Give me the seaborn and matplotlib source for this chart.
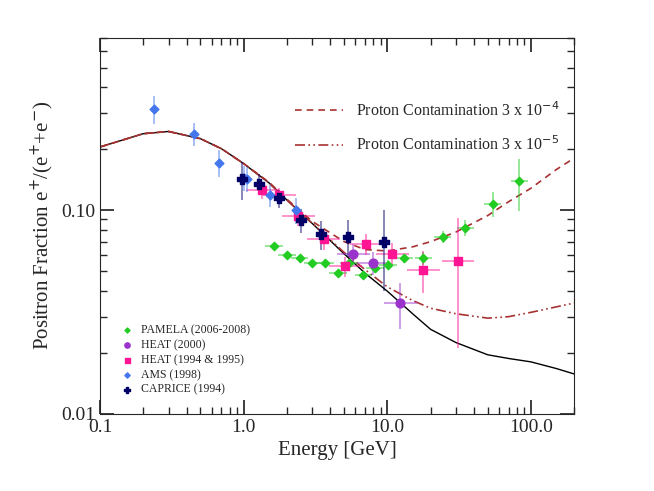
import numpy as np
import pandas as pd
import seaborn as sns
import matplotlib
matplotlib.use("Agg")
import matplotlib.pyplot as plt
from matplotlib.ticker import FixedLocator, NullFormatter

# data
pamela_e = [1.63, 2.0, 2.45, 3.0, 3.7, 4.55, 5.4, 6.8, 8.2, 10.1, 13.1, 17.8, 24.3, 34.9, 54, 83]
pamela_f = [0.067, 0.060, 0.058, 0.055, 0.055, 0.049, 0.055, 0.048, 0.052, 0.054, 0.058, 0.058, 0.074, 0.082, 0.107, 0.139]
pamela_err = [0.002, 0.002, 0.002, 0.002, 0.002, 0.002, 0.002, 0.002, 0.003, 0.003, 0.003, 0.004, 0.005, 0.007, 0.015, 0.04]

heat00_e = [5.8, 8.0, 12.3]
heat00_f = [0.061, 0.055, 0.035]
heat00_err = [0.007, 0.007, 0.009]

heat94_e = [1.35, 1.77, 2.4, 3.6, 5.1, 7.1, 10.8, 17.8, 31]
heat94_f = [0.125, 0.119, 0.094, 0.072, 0.053, 0.068, 0.061, 0.051, 0.056]
heat94_err = [0.012, 0.01, 0.01, 0.008, 0.006, 0.008, 0.008, 0.012, 0.035]

ams_e = [0.238, 0.45, 0.67, 1.01, 1.05, 1.53, 2.3]
ams_f = [0.314, 0.237, 0.171, 0.144, 0.142, 0.118, 0.100]
ams_err = [0.05, 0.03, 0.025, 0.02, 0.02, 0.015, 0.015]

caprice_e = [0.98, 1.28, 1.77, 2.5, 3.45, 5.3, 9.5]
caprice_f = [0.142, 0.135, 0.114, 0.089, 0.076, 0.074, 0.070]
caprice_err = [0.03, 0.015, 0.012, 0.012, 0.012, 0.015, 0.03]

model_e = [0.1, 0.2, 0.3, 0.5, 0.7, 1.0, 1.5, 2, 3, 5, 7, 10, 15, 20, 30, 50, 70, 100, 150, 200]
model_f = [0.204, 0.237, 0.243, 0.224, 0.200, 0.169, 0.136, 0.112, 0.086, 0.061, 0.049, 0.040,
           0.031, 0.026, 0.0224, 0.0195, 0.0187, 0.018, 0.0167, 0.0157]
p4_f = [0.204, 0.237, 0.243, 0.224, 0.200, 0.169, 0.137, 0.113, 0.088, 0.070, 0.064, 0.063,
        0.066, 0.070, 0.078, 0.094, 0.110, 0.128, 0.158, 0.18]
p5_f = [0.204, 0.237, 0.243, 0.224, 0.200, 0.169, 0.136, 0.112, 0.086, 0.062, 0.051, 0.042,
        0.036, 0.033, 0.031, 0.0295, 0.030, 0.0315, 0.0335, 0.035]

sns.set_theme(style="ticks")
plt.rcParams['font.family'] = ['Liberation Serif', 'DejaVu Serif']

fig = plt.figure(figsize=(6.54, 4.91), dpi=100)
ax = fig.add_axes([0.153, 0.157, 0.725, 0.766])

curves = pd.DataFrame({'E': model_e, 'm': model_f, 'p4': p4_f, 'p5': p5_f})
sns.lineplot(data=curves, x='E', y='m', color='black', lw=1, ax=ax)
sns.lineplot(data=curves, x='E', y='p4', color='#a83232', lw=1.2, ax=ax,
             linestyle=(0, (4, 3)), label='Proton Contamination 3 x 10$^{-4}$')
sns.lineplot(data=curves, x='E', y='p5', color='#a83232', lw=1.2, ax=ax,
             linestyle=(0, (6, 2, 1, 2, 1, 2)), label='Proton Contamination 3 x 10$^{-5}$')
leg1 = ax.legend(loc='upper right', bbox_to_anchor=(1.0, 0.87), frameon=False, fontsize=11.5,
                 handlelength=3, labelspacing=1.0)
ax.add_artist(leg1)

def series(e, f, err, color, marker, ms, label, xfrac):
    e = np.array(e)
    xerr = [e * (1 - 1 / (1 + xfrac)), e * xfrac]
    ax.errorbar(e, f, yerr=err, xerr=xerr, fmt='none', ecolor=color, alpha=0.55, lw=1.2)
    return ax.scatter(e, f, color=color, marker=marker, s=ms, label=label, zorder=3)

h1 = series(pamela_e, pamela_f, pamela_err, '#22cc22', 'D', 18, 'PAMELA (2006-2008)', 0.15)
h2 = series(heat00_e, heat00_f, heat00_err, '#9933cc', 'o', 40, 'HEAT (2000)', 0.3)
h3 = series(heat94_e, heat94_f, heat94_err, '#ff1493', 's', 36, 'HEAT (1994 & 1995)', 0.3)
h4 = series(ams_e, ams_f, ams_err, '#4477ee', 'D', 20, 'AMS (1998)', 0.02)
h5 = series(caprice_e, caprice_f, caprice_err, '#000066', 'P', 60, 'CAPRICE (1994)', 0.02)
ax.legend(handles=[h1, h2, h3, h4, h5], loc='lower left', bbox_to_anchor=(0.01, 0.02),
          frameon=False, fontsize=8.5, handletextpad=0.2, labelspacing=0.25, markerscale=0.6)

ax.set_xscale('log')
ax.set_yscale('log')
ax.set_xlim(0.1, 200)
ax.set_ylim(0.01, 0.7)
ax.xaxis.set_major_locator(FixedLocator([0.1, 1, 10, 100]))
ax.set_xticklabels(['0.1', '1.0', '10.0', '100.0'])
ax.yaxis.set_major_locator(FixedLocator([0.01, 0.1]))
ax.set_yticklabels(['0.01', '0.10'])
ax.xaxis.set_minor_formatter(NullFormatter())
ax.yaxis.set_minor_formatter(NullFormatter())
ax.tick_params(which='both', direction='in', top=True, right=True, labelsize=14)
ax.tick_params(which='major', length=10)
ax.tick_params(which='minor', length=5)
ax.set_xlabel('Energy [GeV]', fontsize=15)
ax.set_ylabel('Positron Fraction e$^{+}$/(e$^{+}$+e$^{-}$)', fontsize=15)
for s in ax.spines.values():
    s.set_linewidth(0.8)

fig.savefig('out.png', dpi=100)
